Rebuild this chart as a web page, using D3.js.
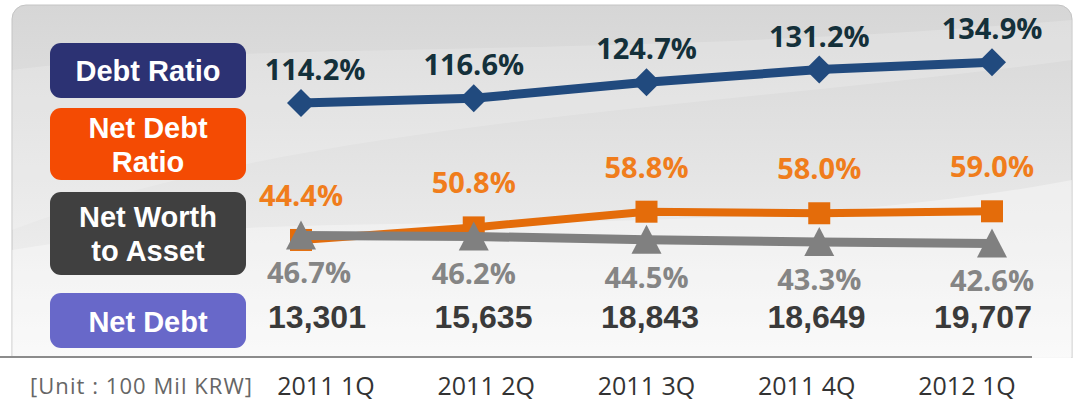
<!DOCTYPE html>
<html lang="en">
<head>
    <meta charset="UTF-8">
    <title>Debt Ratio Trend</title>
    <script src="https://d3js.org/d3.v7.min.js"></script>
    <style>
        body {
            margin: 0;
            padding: 0;
            background: #fff;
        }
        svg {
            display: block;
            font-family: "Open Sans", "Noto Sans", sans-serif;
        }
    </style>
</head>
<body>
    <svg width="1074" height="401"></svg>

    <script>
        // data
        const quarters = ["2011 1Q", "2011 2Q", "2011 3Q", "2011 4Q", "2012 1Q"];
        const debtRatio = [114.2, 116.6, 124.7, 131.2, 134.9];
        const netDebtRatio = [44.4, 50.8, 58.8, 58.0, 59.0];
        const netWorthToAsset = [46.7, 46.2, 44.5, 43.3, 42.6];
        const netDebt = [13301, 15635, 18843, 18649, 19707];
        const legendNames = [["Debt Ratio"], ["Net Debt", "Ratio"], ["Net Worth", "to Asset"], ["Net Debt"]];
        const unitLabel = "[Unit : 100 Mil KRW]";

        const width = 1074;
        const height = 401;
        const svg = d3.select("svg");

        const x = d3.scalePoint().domain(quarters).range([301, 992]);
        const xAxisLabel = d3.scalePoint().domain(quarters).range([326, 967]);
        const xTable = d3.scalePoint().domain(quarters).range([317, 983]);
        const y = d3.scaleLinear().domain([40, 140]).range([248.6, 52.3]);

        // background panel
        const defs = svg.append("defs");
        const grad = defs.append("linearGradient")
            .attr("id", "panelGrad")
            .attr("x1", 0).attr("y1", 0).attr("x2", 0).attr("y2", 1);
        grad.append("stop").attr("offset", "0%").attr("stop-color", "#d6d6d6");
        grad.append("stop").attr("offset", "55%").attr("stop-color", "#e9e9e9");
        grad.append("stop").attr("offset", "100%").attr("stop-color", "#fcfcfc");

        svg.append("rect")
            .attr("x", 12).attr("y", 5)
            .attr("width", 1060).attr("height", 400)
            .attr("rx", 14)
            .attr("fill", "url(#panelGrad)")
            .attr("stroke", "#c4c4c4");

        // soft light swooshes
        svg.append("path")
            .attr("d", "M12,70 C250,40 600,60 1072,20 L1072,60 C700,110 300,120 12,230 Z")
            .attr("fill", "#fff").attr("opacity", 0.18);
        svg.append("path")
            .attr("d", "M12,250 C300,200 700,250 1072,180 L1072,357 L12,357 Z")
            .attr("fill", "#fff").attr("opacity", 0.35);

        // white below baseline
        svg.append("rect")
            .attr("x", 0).attr("y", 358)
            .attr("width", width).attr("height", height - 358)
            .attr("fill", "#fff");

        svg.append("line")
            .attr("x1", 0).attr("x2", 1032)
            .attr("y1", 357).attr("y2", 357)
            .attr("stroke", "#8c8c8c")
            .attr("stroke-width", 2);

        // legend boxes
        const boxes = [
            { y0: 43, y1: 98, fill: "#2c3273", baseline: 81 },
            { y0: 108, y1: 180, fill: "#f44b03", baseline: 138 },
            { y0: 192, y1: 275, fill: "#404040", baseline: 227 },
            { y0: 293, y1: 348, fill: "#6868c9", baseline: 332 }
        ];
        boxes.forEach((b, i) => {
            svg.append("rect")
                .attr("x", 50).attr("y", b.y0)
                .attr("width", 196).attr("height", b.y1 - b.y0)
                .attr("rx", 11)
                .attr("fill", b.fill);
            const t = svg.append("text")
                .attr("y", b.baseline)
                .attr("text-anchor", "middle")
                .attr("fill", "#fff")
                .attr("font-family", "'Liberation Sans', Arial, sans-serif")
                .attr("font-size", 29)
                .attr("font-weight", 700);
            legendNames[i].forEach((line, j) => {
                t.append("tspan")
                    .attr("x", 148)
                    .attr("dy", j === 0 ? 0 : 34)
                    .text(line);
            });
        });

        const lineGen = d3.line()
            .x((d, i) => x(quarters[i]))
            .y(d => y(d));

        // debt ratio
        svg.append("path")
            .datum(debtRatio)
            .attr("d", lineGen)
            .attr("fill", "none")
            .attr("stroke", "#214a7e")
            .attr("stroke-width", 9);
        svg.selectAll(".diamond")
            .data(debtRatio)
            .join("path")
            .attr("class", "diamond")
            .attr("transform", (d, i) => `translate(${x(quarters[i])},${y(d)})`)
            .attr("d", "M0,-14 L14,0 L0,14 L-14,0 Z")
            .attr("fill", "#214a7e");
        svg.selectAll(".debtLabel")
            .data(debtRatio)
            .join("text")
            .attr("class", "debtLabel")
            .attr("x", (d, i) => x(quarters[i]) + (i === 0 ? 14 : 0))
            .attr("y", d => y(d) - 23)
            .attr("text-anchor", "middle")
            .attr("fill", "#14303a")
            .attr("font-size", 29)
            .attr("font-weight", 700)
            .text(d => d.toFixed(1) + "%");

        // net debt ratio
        svg.append("path")
            .datum(netDebtRatio)
            .attr("d", lineGen)
            .attr("fill", "none")
            .attr("stroke", "#e46c0a")
            .attr("stroke-width", 8);
        svg.selectAll(".square")
            .data(netDebtRatio)
            .join("rect")
            .attr("class", "square")
            .attr("x", (d, i) => x(quarters[i]) - 11)
            .attr("y", d => y(d) - 11)
            .attr("width", 22).attr("height", 22)
            .attr("fill", "#e46c0a");
        svg.selectAll(".ndrLabel")
            .data(netDebtRatio)
            .join("text")
            .attr("class", "ndrLabel")
            .attr("x", (d, i) => x(quarters[i]))
            .attr("y", d => y(d) - 34)
            .attr("text-anchor", "middle")
            .attr("fill", "#f07d1c")
            .attr("font-size", 29)
            .attr("font-weight", 700)
            .text(d => d.toFixed(1) + "%");

        // net worth to asset
        svg.append("path")
            .datum(netWorthToAsset)
            .attr("d", lineGen)
            .attr("fill", "none")
            .attr("stroke", "#808080")
            .attr("stroke-width", 9);
        svg.selectAll(".triangle")
            .data(netWorthToAsset)
            .join("path")
            .attr("class", "triangle")
            .attr("transform", (d, i) => `translate(${x(quarters[i])},${y(d)})`)
            .attr("d", "M0,-15 L15,14 L-15,14 Z")
            .attr("fill", "#808080");
        svg.selectAll(".nwLabel")
            .data(netWorthToAsset)
            .join("text")
            .attr("class", "nwLabel")
            .attr("x", (d, i) => x(quarters[i]) + (i === 0 ? 8 : 0))
            .attr("y", d => y(d) + 48)
            .attr("text-anchor", "middle")
            .attr("fill", "#858585")
            .attr("font-size", 29)
            .attr("font-weight", 700)
            .text(d => d.toFixed(1) + "%");

        // net debt values
        svg.selectAll(".netDebt")
            .data(netDebt)
            .join("text")
            .attr("class", "netDebt")
            .attr("x", (d, i) => xTable(quarters[i]))
            .attr("y", 328)
            .attr("text-anchor", "middle")
            .attr("fill", "#3a3a3a")
            .attr("font-family", "'Liberation Sans', Arial, sans-serif")
            .attr("font-size", 32)
            .attr("font-weight", 700)
            .text(d3.format(","));

        // quarter labels
        svg.selectAll(".quarter")
            .data(quarters)
            .join("text")
            .attr("class", "quarter")
            .attr("x", d => xAxisLabel(d))
            .attr("y", 395)
            .attr("text-anchor", "middle")
            .attr("fill", "#333")
            .attr("font-size", 25)
            .text(d => d);

        svg.append("text")
            .attr("x", 30).attr("y", 394)
            .attr("fill", "#666")
            .attr("font-size", 22)
            .attr("textLength", 222)
            .attr("lengthAdjust", "spacing")
            .text(unitLabel);
    </script>
</body>
</html>
